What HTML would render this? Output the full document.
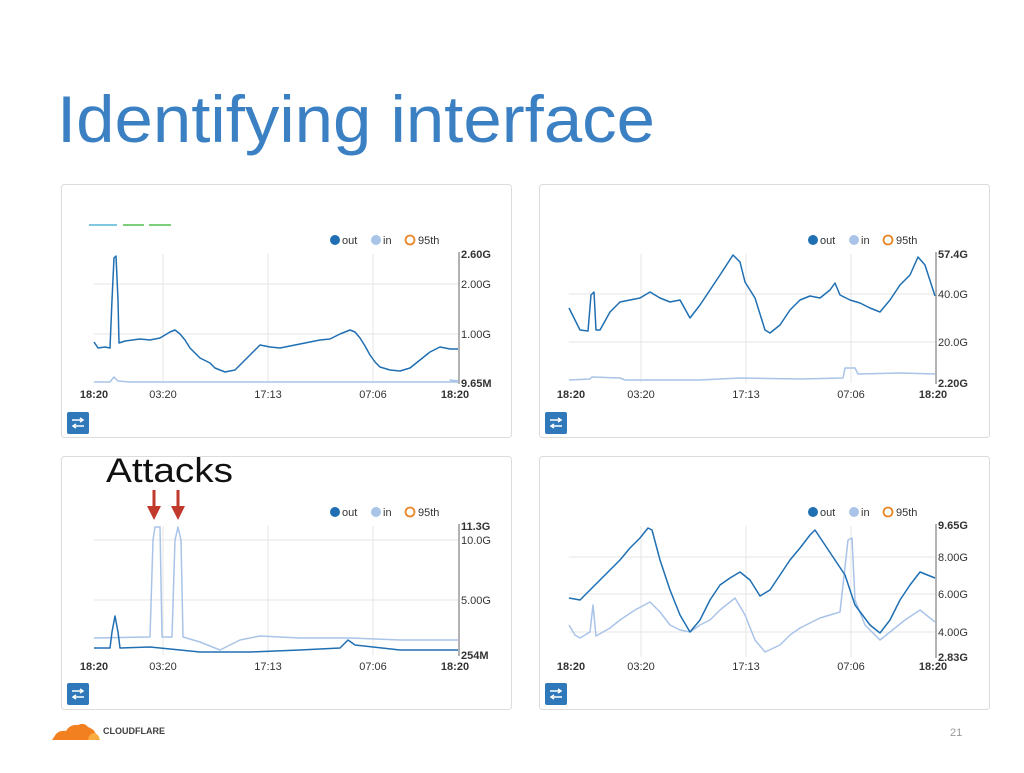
<!DOCTYPE html>
<html><head><meta charset="utf-8"><style>
body{margin:0;width:1024px;height:768px;background:#fff;overflow:hidden;font-family:"Liberation Sans",sans-serif}
</style></head><body>
<svg width="1024" height="768" xmlns="http://www.w3.org/2000/svg" font-family="Liberation Sans, sans-serif">
<text x="57" y="142" font-size="66" fill="#3b80c3" textLength="598" lengthAdjust="spacingAndGlyphs">Identifying interface</text>
<g fill="#fff" stroke="#dcdcdc" stroke-width="1">
<rect x="61.5" y="184.5" width="450" height="253" rx="3"/>
<rect x="539.5" y="184.5" width="450" height="253" rx="3"/>
<rect x="61.5" y="456.5" width="450" height="253" rx="3"/>
<rect x="539.5" y="456.5" width="450" height="253" rx="3"/>
</g>
<g stroke-width="2"><line x1="89" y1="225" x2="117" y2="225" stroke="#7fc8e0"/><line x1="123" y1="225" x2="144" y2="225" stroke="#7ccf7c"/><line x1="149" y1="225" x2="171" y2="225" stroke="#7ccf7c"/></g>
<g font-size="11" fill="#333">
<circle cx="335" cy="240" r="5" fill="#1f6fb2"/><text x="342" y="244">out</text>
<circle cx="376" cy="240" r="5" fill="#a9c4e8"/><text x="383" y="244">in</text>
<circle cx="410" cy="240" r="4.5" fill="none" stroke="#e8862a" stroke-width="1.8"/><text x="418" y="244">95th</text>
<circle cx="813" cy="240" r="5" fill="#1f6fb2"/><text x="820" y="244">out</text>
<circle cx="854" cy="240" r="5" fill="#a9c4e8"/><text x="861" y="244">in</text>
<circle cx="888" cy="240" r="4.5" fill="none" stroke="#e8862a" stroke-width="1.8"/><text x="896" y="244">95th</text>
<circle cx="335" cy="512" r="5" fill="#1f6fb2"/><text x="342" y="516">out</text>
<circle cx="376" cy="512" r="5" fill="#a9c4e8"/><text x="383" y="516">in</text>
<circle cx="410" cy="512" r="4.5" fill="none" stroke="#e8862a" stroke-width="1.8"/><text x="418" y="516">95th</text>
<circle cx="813" cy="512" r="5" fill="#1f6fb2"/><text x="820" y="516">out</text>
<circle cx="854" cy="512" r="5" fill="#a9c4e8"/><text x="861" y="516">in</text>
<circle cx="888" cy="512" r="4.5" fill="none" stroke="#e8862a" stroke-width="1.8"/><text x="896" y="516">95th</text>
</g>
<g stroke="#e6e6e6" stroke-width="1">
<line x1="163" y1="254" x2="163" y2="383"/><line x1="268" y1="254" x2="268" y2="383"/><line x1="373" y1="254" x2="373" y2="383"/>
<line x1="94" y1="284" x2="459" y2="284"/><line x1="94" y1="334" x2="459" y2="334"/>
<line x1="641" y1="254" x2="641" y2="383"/><line x1="746" y1="254" x2="746" y2="383"/><line x1="851" y1="254" x2="851" y2="383"/>
<line x1="569" y1="294" x2="935" y2="294"/><line x1="569" y1="342" x2="935" y2="342"/>
<line x1="163" y1="526" x2="163" y2="655"/><line x1="268" y1="526" x2="268" y2="655"/><line x1="373" y1="526" x2="373" y2="655"/>
<line x1="94" y1="540" x2="459" y2="540"/><line x1="94" y1="600" x2="459" y2="600"/>
<line x1="641" y1="526" x2="641" y2="657"/><line x1="746" y1="526" x2="746" y2="657"/><line x1="851" y1="526" x2="851" y2="657"/>
<line x1="569" y1="557" x2="935" y2="557"/><line x1="569" y1="594" x2="935" y2="594"/><line x1="569" y1="632" x2="935" y2="632"/>
</g>
<g stroke="#999" stroke-width="1.5">
<line x1="459" y1="252" x2="459" y2="384"/><line x1="936" y1="252" x2="936" y2="384"/>
<line x1="459" y1="524" x2="459" y2="656"/><line x1="936" y1="524" x2="936" y2="658"/>
</g>
<g font-size="11" fill="#333">
<text x="461" y="258" font-weight="bold">2.60G</text><text x="461" y="288">2.00G</text><text x="461" y="338">1.00G</text><text x="461" y="387" font-weight="bold">9.65M</text>
<text x="938" y="258" font-weight="bold">57.4G</text><text x="938" y="298">40.0G</text><text x="938" y="346">20.0G</text><text x="938" y="387" font-weight="bold">2.20G</text>
<text x="461" y="530" font-weight="bold">11.3G</text><text x="461" y="544">10.0G</text><text x="461" y="604">5.00G</text><text x="461" y="659" font-weight="bold">254M</text>
<text x="938" y="529" font-weight="bold">9.65G</text><text x="938" y="561">8.00G</text><text x="938" y="598">6.00G</text><text x="938" y="636">4.00G</text><text x="938" y="661" font-weight="bold">2.83G</text>
</g>
<g font-size="11" fill="#333" text-anchor="middle">
<text x="94" y="398" font-weight="bold">18:20</text><text x="163" y="398">03:20</text><text x="268" y="398">17:13</text><text x="373" y="398">07:06</text><text x="455" y="398" font-weight="bold">18:20</text>
<text x="571" y="398" font-weight="bold">18:20</text><text x="641" y="398">03:20</text><text x="746" y="398">17:13</text><text x="851" y="398">07:06</text><text x="933" y="398" font-weight="bold">18:20</text>
<text x="94" y="670" font-weight="bold">18:20</text><text x="163" y="670">03:20</text><text x="268" y="670">17:13</text><text x="373" y="670">07:06</text><text x="455" y="670" font-weight="bold">18:20</text>
<text x="571" y="670" font-weight="bold">18:20</text><text x="641" y="670">03:20</text><text x="746" y="670">17:13</text><text x="851" y="670">07:06</text><text x="933" y="670" font-weight="bold">18:20</text>
</g>
<g fill="#2f78b9">
<rect x="67" y="412" width="22" height="22" rx="2"/><rect x="545" y="412" width="22" height="22" rx="2"/>
<rect x="67" y="683" width="22" height="22" rx="2"/><rect x="545" y="683" width="22" height="22" rx="2"/>
</g>
<g stroke="#fff" stroke-width="1.5">
<path d="M72 420h11M80 418l3 2-3 2M84 426h-11M76 424l-3 2 3 2"/>
<path d="M550 420h11M558 418l3 2-3 2M562 426h-11M554 424l-3 2 3 2"/>
<path d="M72 691h11M80 689l3 2-3 2M84 697h-11M76 695l-3 2 3 2"/>
<path d="M550 691h11M558 689l3 2-3 2M562 697h-11M554 695l-3 2 3 2"/>
</g>
<g fill="none" stroke-width="1.5" stroke-linejoin="round">
<polyline stroke="#a9c4e8" points="94,382 110,382 114,377 118,381 130,382 458,382 450,380 458,381"/>
<polyline stroke="#1f6fb2" points="94,342 98,348 105,347 110,348 112,300 114,258 116,256 118,300 119,343 125,341 140,339 150,340 160,338 165,335 170,332 175,330 180,334 185,340 190,348 200,358 210,363 215,368 225,372 235,370 245,360 255,350 260,345 270,347 280,348 290,346 300,344 310,342 320,340 330,339 340,334 350,330 355,332 360,338 365,346 370,355 375,362 380,367 390,370 400,371 410,368 420,360 430,352 440,347 450,349 458,349"/>
<polyline stroke="#a9c4e8" points="569,380 590,379 592,377 620,378 625,380 700,380 740,378 800,379 843,378 845,368 855,368 858,374 900,373 935,374"/>
<polyline stroke="#1f6fb2" points="569,308 575,320 580,330 588,331 591,295 594,292 596,330 600,330 610,312 620,302 630,300 640,298 650,292 660,298 670,302 680,300 690,318 700,305 710,290 720,275 733,255 740,262 745,282 755,298 765,330 770,333 780,325 790,310 800,300 810,296 820,298 830,290 835,283 840,295 850,300 860,303 870,308 880,312 890,300 900,285 910,275 918,257 925,265 935,296"/>
<polyline stroke="#a9c4e8" points="94,638 150,637 153,540 155,527 160,527 162,637 172,637 175,540 178,527 181,540 183,637 200,642 220,650 240,640 260,636 300,638 350,638 400,640 458,640"/>
<polyline stroke="#1f6fb2" points="94,648 110,648 112,632 115,616 118,632 120,648 150,647 200,652 250,652 300,650 340,648 348,640 355,645 400,650 458,650"/>
<polyline stroke="#a9c4e8" points="569,625 575,635 580,638 590,632 593,605 596,636 610,628 620,620 635,610 650,602 660,612 670,625 680,630 690,632 700,625 710,620 720,610 735,598 745,615 755,640 765,652 780,645 790,635 800,628 820,618 840,612 848,540 852,538 855,600 865,625 880,640 890,632 905,620 920,610 935,622"/>
<polyline stroke="#1f6fb2" points="569,598 580,600 590,590 600,580 610,570 620,560 630,548 640,538 648,528 652,530 660,560 670,590 680,615 690,632 700,620 710,600 720,585 730,578 740,572 750,580 760,596 770,590 780,575 790,560 800,548 810,535 815,530 825,545 835,560 845,575 855,605 870,625 880,633 890,620 900,600 910,585 920,572 935,578"/>
</g>
<text x="106" y="482" font-size="34" fill="#111" textLength="127" lengthAdjust="spacingAndGlyphs">Attacks</text>
<g fill="#c0392b" stroke="#c0392b" stroke-width="3">
<line x1="154" y1="490" x2="154" y2="508"/><polygon points="147,506 161,506 154,520" stroke="none"/>
<line x1="178" y1="490" x2="178" y2="508"/><polygon points="171,506 185,506 178,520" stroke="none"/>
</g>
<path d="M52 740 L56 734 Q60 730 66 731 Q70 724 78 725 Q84 722 88 727 Q94 729 96 734 L100 740 Z" fill="#f38020"/>
<path d="M88 740 Q89 733 95 733 Q99 735 100 740 Z" fill="#faad3f"/>
<text x="103" y="734" font-size="9" font-weight="bold" fill="#404041">CLOUDFLARE</text>
<text x="950" y="736" font-size="11" fill="#999">21</text>
</svg>
</body></html>
